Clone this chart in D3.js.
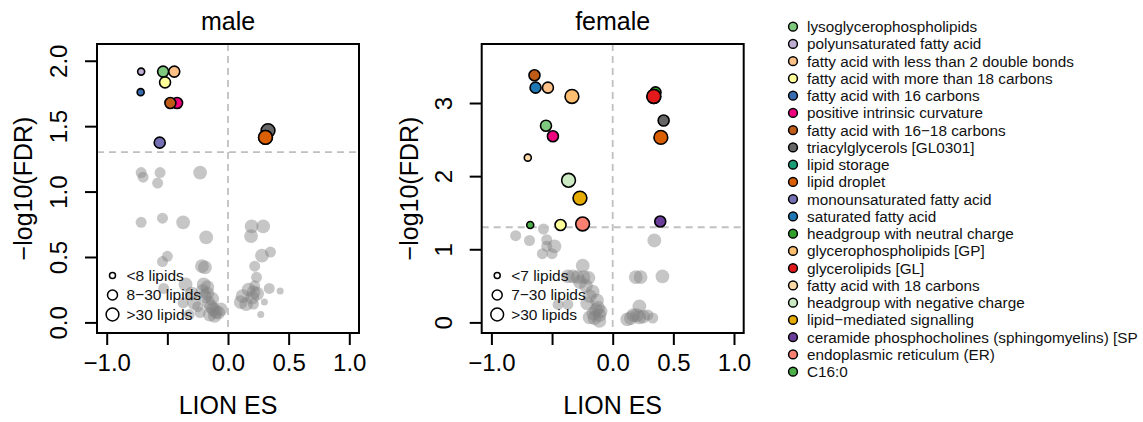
<!DOCTYPE html>
<html><head><meta charset="utf-8">
<script src="https://cdn.jsdelivr.net/npm/d3@7"></script>
<style>body{margin:0;background:#fff}svg{display:block;font-family:"Liberation Sans",Arial,sans-serif}</style>
</head><body>
<svg id="chart" width="1143" height="422"></svg>
<script>
// ---- data ----
const categories = ["lysoglycerophospholipids","polyunsaturated fatty acid","fatty acid with less than 2 double bonds","fatty acid with more than 18 carbons","fatty acid with 16 carbons","positive intrinsic curvature","fatty acid with 16\u221218 carbons","triacylglycerols [GL0301]","lipid storage","lipid droplet","monounsaturated fatty acid","saturated fatty acid","headgroup with neutral charge","glycerophospholipids [GP]","glycerolipids [GL]","fatty acid with 18 carbons","headgroup with negative charge","lipid\u2212mediated signalling","ceramide phosphocholines (sphingomyelins) [SP","endoplasmic reticulum (ER)","C16:0"];
const palette = ["#7FC97F","#BEAED4","#FDC086","#FFFF99","#386CB0","#F0027F","#BF5B17","#666666","#1B9E77","#D95F02","#7570B3","#1F78B4","#33A02C","#FDBF6F","#E31A1C","#FED9A6","#CCEBC5","#E6AB02","#6A3D9A","#FB8072","#4DAF4A"];

const xTicks = [-1, -0.5, 0, 0.5, 1];
const xTickLabels = ["\u22121.0", "", "0.0", "0.5", "1.0"];
const maleYTicks = [0, 0.5, 1, 1.5, 2];
const maleYTickLabels = ["0.0","0.5","1.0","1.5","2.0"];
const femaleYTicks = [0, 1, 2, 3];
const femaleYTickLabels = ["0","1","2","3"];
const sizeClasses = [0, 1, 2];
const maleSizeLabels = ["<8 lipids", "8\u221230 lipids", ">30 lipids"];
const femaleSizeLabels = ["<7 lipids", "7\u221230 lipids", ">30 lipids"];

// significant terms (category index, ES, -log10 FDR, size class)
const maleCat  = [1, 4, 0, 2, 3, 5, 6, 10, 7, 8, 9];
const maleES   = [-0.716, -0.72, -0.535, -0.443, -0.519, -0.42, -0.475, -0.563, 0.33, 0.309, 0.309];
const maleFDR  = [1.917, 1.76, 1.917, 1.917, 1.835, 1.677, 1.677, 1.374, 1.466, 1.414, 1.414];
const maleSize = [0, 0, 1, 1, 1, 1, 1, 1, 2, 2, 2];

const femaleCat  = [6, 11, 2, 13, 0, 5, 15, 16, 17, 20, 3, 19, 12, 8, 14, 7, 9, 18];
const femaleES   = [-0.645, -0.636, -0.534, -0.336, -0.55, -0.493, -0.70, -0.364, -0.27, -0.68, -0.43, -0.248, 0.353, 0.339, 0.339, 0.42, 0.397, 0.392];
const femaleFDR  = [3.38, 3.21, 3.21, 3.09, 2.69, 2.545, 2.253, 1.943, 1.70, 1.332, 1.332, 1.346, 3.146, 3.09, 3.09, 2.76, 2.53, 1.38];
const femaleSize = [1, 1, 1, 2, 1, 1, 0, 2, 2, 0, 1, 2, 1, 2, 2, 1, 2, 1];

// non-significant terms
const maleBgES   = [-0.716,-0.70,-0.56,-0.58,-0.23,-0.716,-0.54,-0.37,-0.18,-0.50,-0.54,-0.215,-0.19,-0.53,-0.35,-0.30,-0.37,-0.28,-0.21,-0.17,-0.16,-0.12,-0.08,-0.15,-0.23,-0.19,-0.14,-0.10,
                    -0.13,-0.11,-0.06,-0.25,-0.32,-0.20,-0.17,
                    0.195,0.29,0.19,0.35,0.28,0.22,0.235,0.22,0.34,0.43,0.17,0.21,0.105,0.15,0.21,0.30,0.27,0.20,0.12,0.24];
const maleBgFDR  = [1.145,1.11,1.145,1.065,1.145,0.765,0.797,0.765,0.65,0.505,0.465,0.43,0.42,0.26,0.29,0.22,0.15,0.15,0.24,0.22,0.15,0.10,0.075,0.06,0.075,0.20,0.12,0.08,
                    0.18,0.05,0.10,0.12,0.06,0.29,0.27,
                    0.734,0.734,0.66,0.538,0.51,0.43,0.345,0.28,0.26,0.24,0.25,0.23,0.155,0.14,0.14,0.155,0.06,0.19,0.2,0.22];
const maleBgSize = [1,1,1,1,2,1,1,2,2,1,1,2,2,1,2,2,1,2,2,2,2,2,2,2,1,2,2,2,
                    2,2,2,1,1,2,2,
                    2,2,2,1,2,1,1,1,1,0,2,2,2,2,1,0,0,2,2,2];

const femaleBgES   = [-0.80,-0.686,-0.571,-0.544,-0.48,-0.544,-0.58,-0.50,0.343,-0.247,-0.29,-0.33,-0.24,-0.20,-0.37,-0.165,-0.19,-0.45,-0.37,-0.137,-0.11,-0.15,-0.11,-0.19,-0.21,
                      -0.13,-0.12,-0.16,-0.10,-0.22,-0.27,
                      0.19,0.23,0.41,0.12,0.17,0.22,0.25,0.29,0.33,0.15,0.20,0.22];
const femaleBgFDR  = [1.186,1.12,1.277,1.13,1.04,1.04,0.94,0.94,1.12,0.775,0.62,0.63,0.62,0.61,0.63,0.42,0.36,0.245,0.245,0.17,0.10,0.06,0.02,0.07,0.26,
                      0.30,0.20,0.12,0.15,0.50,0.55,
                      0.62,0.62,0.63,0.04,0.10,0.22,0.08,0.10,0.06,0.06,0.10,0.07];
const femaleBgSize = [1,1,1,1,2,1,1,1,2,2,2,2,2,2,2,2,2,1,1,2,2,2,2,2,2,
                      2,2,2,2,2,2,
                      2,2,2,2,2,2,2,1,1,2,2,2];

// ---- drawing ----
const svg = d3.select("#chart");
const rScale = d3.scaleOrdinal().domain(sizeClasses).range([3.5, 5.5, 6.9]);
const FONT = 24;

function panel(opt) {
  const x = d3.scaleLinear().domain([-1.08, 1.08]).range([opt.left, opt.left + 262]);
  const y = d3.scaleLinear().domain(opt.yDomain).range([333, 44]);
  const g = svg.append("g");

  // gray background points
  g.append("g").selectAll("circle").data(d3.range(opt.bgES.length)).join("circle")
    .attr("cx", i => x(opt.bgES[i])).attr("cy", i => y(opt.bgFDR[i]))
    .attr("r", i => rScale(opt.bgSize[i]))
    .attr("fill", "#808080").attr("fill-opacity", 0.45);

  // threshold lines
  g.append("line").attr("x1", x.range()[0]).attr("x2", x.range()[1])
    .attr("y1", y(-Math.log10(0.05))).attr("y2", y(-Math.log10(0.05)))
    .attr("stroke", "#c0c0c0").attr("stroke-width", 1.8).attr("stroke-dasharray", "7,5");
  g.append("line").attr("x1", x(0)).attr("x2", x(0)).attr("y1", 44).attr("y2", 333)
    .attr("stroke", "#c0c0c0").attr("stroke-width", 1.8).attr("stroke-dasharray", "7,5");

  // size legend
  const sl = g.append("g");
  sizeClasses.forEach((s, i) => {
    const cy = 275.5 + i * 19.5;
    sl.append("circle").attr("cx", opt.left + 15.5).attr("cy", cy).attr("r", rScale(s) - 0.5)
      .attr("fill", "#fff").attr("stroke", "#000").attr("stroke-width", 1.5);
    sl.append("text").attr("x", opt.left + 29.5).attr("y", cy).attr("dy", "0.35em")
      .attr("font-size", 15.5).attr("fill", "#111").text(opt.sizeLabels[i]);
  });

  // significant points
  g.append("g").selectAll("circle").data(d3.range(opt.cat.length)).join("circle")
    .attr("cx", i => x(opt.es[i])).attr("cy", i => y(opt.fdr[i]))
    .attr("r", i => rScale(opt.size[i]))
    .attr("fill", i => palette[opt.cat[i]]).attr("stroke", "#000").attr("stroke-width", 1.6);

  // box
  g.append("rect").attr("x", x.range()[0]).attr("y", 44).attr("width", 262).attr("height", 289)
    .attr("fill", "none").attr("stroke", "#000").attr("stroke-width", 2);

  // x axis
  const xa = g.append("g").attr("transform", "translate(0,333)")
    .call(d3.axisBottom(x).tickValues(xTicks).tickSize(12).tickFormat((d, i) => xTickLabels[i]));
  xa.select(".domain").remove();
  xa.selectAll("line").attr("stroke", "#000").attr("stroke-width", 2);
  xa.selectAll("text").attr("font-size", FONT).attr("fill", "#000").attr("y", 21).attr("dy", "0.71em")
    .attr("font-family", '"Liberation Sans",Arial,sans-serif');

  // y axis
  const ya = g.append("g").attr("transform", `translate(${x.range()[0]},0)`)
    .call(d3.axisLeft(y).tickValues(opt.yTicks).tickSize(12).tickFormat((d, i) => opt.yTickLabels[i]));
  ya.select(".domain").remove();
  ya.selectAll("line").attr("stroke", "#000").attr("stroke-width", 2);
  ya.selectAll("text").attr("font-size", FONT).attr("fill", "#000")
    .attr("x", null).attr("dy", null)
    .attr("text-anchor", "middle")
    .attr("transform", `translate(${opt.yTickBase - x.range()[0]},0) rotate(-90)`)
    .attr("font-family", '"Liberation Sans",Arial,sans-serif');

  // titles
  const cx = (x.range()[0] + x.range()[1]) / 2;
  g.append("text").attr("x", cx).attr("y", 30).attr("text-anchor", "middle").attr("font-size", 25).text(opt.title);
  g.append("text").attr("x", cx).attr("y", 414).attr("text-anchor", "middle").attr("font-size", 25).text("LION ES");
  g.append("text").attr("transform", `translate(${opt.yLabelBase},188.5) rotate(-90)`)
    .attr("text-anchor", "middle").attr("font-size", 25).text("\u2212log10(FDR)");
}

panel({left: 97, yDomain: [-0.081, 2.128], title: "male", yTicks: maleYTicks, yTickLabels: maleYTickLabels,
  yTickBase: 67, yLabelBase: 32, sizeLabels: maleSizeLabels,
  cat: maleCat, es: maleES, fdr: maleFDR, size: maleSize,
  bgES: maleBgES, bgFDR: maleBgFDR, bgSize: maleBgSize});

panel({left: 481.7, yDomain: [-0.145, 3.807], title: "female", yTicks: femaleYTicks, yTickLabels: femaleYTickLabels,
  yTickBase: 452, yLabelBase: 418, sizeLabels: femaleSizeLabels,
  cat: femaleCat, es: femaleES, fdr: femaleFDR, size: femaleSize,
  bgES: femaleBgES, bgFDR: femaleBgFDR, bgSize: femaleBgSize});

// category legend
const lg = svg.append("g");
categories.forEach((c, i) => {
  const cy = 26.7 + i * 17.25;
  lg.append("circle").attr("cx", 793).attr("cy", cy).attr("r", 4.4)
    .attr("fill", palette[i]).attr("stroke", "#000").attr("stroke-width", 1.5);
  lg.append("text").attr("x", 807).attr("y", cy).attr("dy", "0.35em").attr("font-size", 15.3)
    .attr("fill", "#111").text(c);
});
</script>
</body></html>
